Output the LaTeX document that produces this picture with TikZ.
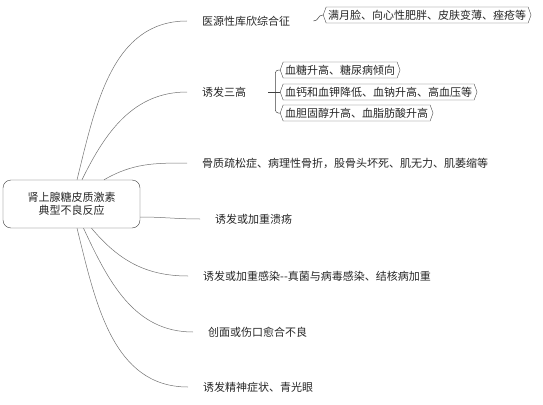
\documentclass[tikz,border=0pt]{standalone}
\usepackage{fontspec}
\setmainfont{Noto Sans CJK SC}
\usetikzlibrary{positioning, shapes.symbols}

\begin{document}
\begin{tikzpicture}[x=1pt, y=1pt,
  font=\fontsize{11}{13}\selectfont,
  text=black!85,
  root/.style={draw=black!75, rounded corners=8pt, minimum width=137pt, minimum height=48pt, align=center, inner sep=0pt},
  branch/.style={anchor=west, inner sep=2pt},
  leaf/.style={draw=black!70, anchor=west, signal, signal to=west and east, signal pointer angle=140, inner xsep=2pt, inner ysep=1pt, minimum height=16pt},
  link/.style={draw=black!55, line width=0.5pt},
  twig/.style={draw=black!75, line width=0.5pt, rounded corners=3pt}]
  \useasboundingbox (0,0) rectangle (543,-404);

  \node[root] (root) at (71.5,-204) {肾上腺糖皮质激素\\典型不良反应};

  % first level
  \node[branch] (cushing) at (200,-21) {医源性库欣综合征};
  \node[branch] (three) at (200,-92) {诱发三高};
  \node[branch] (bone) at (200,-163) {骨质疏松症、病理性骨折，股骨头坏死、肌无力、肌萎缩等};
  \node[branch] (ulcer) at (213,-219) {诱发或加重溃疡};
  \node[branch] (infect) at (201,-276) {诱发或加重感染-{}-真菌与病毒感染、结核病加重};
  \node[branch] (wound) at (206,-332) {创面或伤口愈合不良};
  \node[branch] (mind) at (201,-387) {诱发精神症状、青光眼};

  \draw[link] ([xshift=5.5pt]root.north) to[out=76, in=180] ([xshift=-13pt]cushing.west);
  \draw[link] ([xshift=10.5pt]root.north) to[out=64, in=180] ([xshift=-13pt]three.west);
  \draw[link] ([xshift=32.5pt]root.north) to[out=30, in=180] ([xshift=-13pt]bone.west);
  \draw[link] ([yshift=-13pt]root.east) to[out=0, in=180] ([xshift=-13pt]ulcer.west);
  \draw[link] ([xshift=20pt]root.south) to[out=-50, in=180] ([xshift=-13pt]infect.west);
  \draw[link] ([xshift=12pt]root.south) to[out=-65, in=180] ([xshift=-13pt]wound.west);
  \draw[link] ([xshift=5.5pt]root.south) to[out=-76, in=180] ([xshift=-13pt]mind.west);

  % second level
  \node[leaf] (moon) at (323,-15) {满月脸、向心性肥胖、皮肤变薄、痤疮等};
  \node[leaf] (sugar) at (280,-70) {血糖升高、糖尿病倾向};
  \node[leaf] (sodium) at (280,-92) {血钙和血钾降低、血钠升高、高血压等};
  \node[leaf] (lipid) at (280,-113) {血胆固醇升高、血脂肪酸升高};

  \coordinate[right=21pt of cushing.east] (c1);
  \draw[twig] (c1) to[out=0, in=180, looseness=1.3] (moon.west);

  \coordinate[right=20pt of three.east] (c2);
  \coordinate[right=7pt of c2] (j2);
  \draw[twig] (c2) -- (sodium.west);
  \draw[twig] (j2) |- (sugar.west);
  \draw[twig] (j2) |- (lipid.west);
\end{tikzpicture}
\end{document}
